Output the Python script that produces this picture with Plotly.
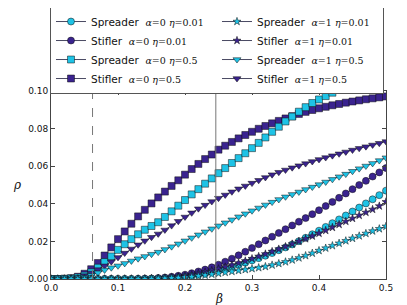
import plotly.graph_objects as go

beta = [round(0.01 * i, 2) for i in range(51)]

# Stifler alpha=0 eta=0.5 (purple squares)
stif_a0_e05 = [0.0000, 0.0000, 0.0001, 0.0004, 0.0012, 0.0028, 0.0052, 0.0085, 0.0125, 0.0168,
               0.0212, 0.0253, 0.0294, 0.0333, 0.0368, 0.0402, 0.0434, 0.0465, 0.0495, 0.0525,
               0.0555, 0.0585, 0.0612, 0.0638, 0.0662, 0.0688, 0.0709, 0.0729, 0.0748, 0.0766,
               0.0783, 0.0799, 0.0814, 0.0828, 0.0841, 0.0854, 0.0866, 0.0878, 0.0889, 0.0899,
               0.0908, 0.0916, 0.0924, 0.0931, 0.0938, 0.0944, 0.0950, 0.0956, 0.0961, 0.0966,
               0.0971]
# Spreader alpha=0 eta=0.5 (cyan squares)
spr_a0_e05 = [0.0000, 0.0000, 0.0001, 0.0003, 0.0008, 0.0018, 0.0035, 0.0060, 0.0090, 0.0120,
              0.0155, 0.0185, 0.0212, 0.0238, 0.0262, 0.0282, 0.0302, 0.0330, 0.0360, 0.0390,
              0.0420, 0.0450, 0.0478, 0.0507, 0.0535, 0.0563, 0.0590, 0.0617, 0.0643, 0.0669,
              0.0696, 0.0724, 0.0753, 0.0783, 0.0810, 0.0838, 0.0864, 0.0890, 0.0914, 0.0936,
              0.0955, 0.0973, 0.0991, 0.1008, 0.1024, 0.1040, 0.1054, 0.1068, 0.1081, 0.1094,
              0.1106]
# Stifler alpha=1 eta=0.5 (purple triangles)
stif_a1_e05 = [0.0000, 0.0000, 0.0001, 0.0003, 0.0008, 0.0018, 0.0032, 0.0050, 0.0070, 0.0092,
               0.0115, 0.0138, 0.0160, 0.0182, 0.0203, 0.0222, 0.0240, 0.0261, 0.0284, 0.0307,
               0.0330, 0.0352, 0.0374, 0.0393, 0.0412, 0.0430, 0.0447, 0.0464, 0.0480, 0.0495,
               0.0510, 0.0525, 0.0540, 0.0555, 0.0568, 0.0580, 0.0592, 0.0603, 0.0614, 0.0625,
               0.0636, 0.0646, 0.0656, 0.0666, 0.0676, 0.0686, 0.0695, 0.0704, 0.0713, 0.0722,
               0.0731]
# Spreader alpha=1 eta=0.5 (cyan triangles)
spr_a1_e05 = [0.0000, 0.0000, 0.0000, 0.0001, 0.0004, 0.0010, 0.0020, 0.0033, 0.0048, 0.0060,
              0.0070, 0.0083, 0.0096, 0.0108, 0.0120, 0.0132, 0.0143, 0.0157, 0.0172, 0.0187,
              0.0203, 0.0219, 0.0235, 0.0251, 0.0267, 0.0283, 0.0299, 0.0315, 0.0331, 0.0347,
              0.0363, 0.0378, 0.0394, 0.0409, 0.0423, 0.0437, 0.0450, 0.0463, 0.0476, 0.0489,
              0.0502, 0.0516, 0.0530, 0.0544, 0.0558, 0.0573, 0.0587, 0.0601, 0.0615, 0.0630,
              0.0645]
# Stifler alpha=0 eta=0.01 (purple circles)
stif_a0_e001 = [0.0000, 0.0000, 0.0000, 0.0000, 0.0000, 0.0000, 0.0000, 0.0000, 0.0000, 0.0000,
                0.0000, 0.0000, 0.0000, 0.0001, 0.0002, 0.0003, 0.0005, 0.0008, 0.0012, 0.0017,
                0.0023, 0.0031, 0.0040, 0.0050, 0.0062, 0.0076, 0.0092, 0.0108, 0.0126, 0.0145,
                0.0165, 0.0185, 0.0205, 0.0225, 0.0245, 0.0265, 0.0285, 0.0305, 0.0324, 0.0345,
                0.0366, 0.0388, 0.0410, 0.0432, 0.0455, 0.0478, 0.0500, 0.0522, 0.0545, 0.0567,
                0.0590]
# Spreader alpha=0 eta=0.01 (cyan circles)
spr_a0_e001 = [0.0000, 0.0000, 0.0000, 0.0000, 0.0000, 0.0000, 0.0000, 0.0000, 0.0000, 0.0000,
               0.0000, 0.0000, 0.0000, 0.0000, 0.0000, 0.0001, 0.0001, 0.0002, 0.0004, 0.0007,
               0.0011, 0.0016, 0.0022, 0.0029, 0.0037, 0.0046, 0.0055, 0.0064, 0.0075, 0.0087,
               0.0099, 0.0111, 0.0124, 0.0138, 0.0153, 0.0168, 0.0184, 0.0201, 0.0219, 0.0238,
               0.0257, 0.0277, 0.0297, 0.0317, 0.0338, 0.0359, 0.0380, 0.0402, 0.0424, 0.0446,
               0.0470]
# Stifler alpha=1 eta=0.01 (purple stars)
stif_a1_e001 = [0.0000, 0.0000, 0.0000, 0.0000, 0.0000, 0.0000, 0.0000, 0.0000, 0.0000, 0.0000,
                0.0000, 0.0000, 0.0000, 0.0000, 0.0001, 0.0002, 0.0003, 0.0005, 0.0008, 0.0012,
                0.0017, 0.0023, 0.0030, 0.0037, 0.0045, 0.0054, 0.0064, 0.0074, 0.0085, 0.0096,
                0.0108, 0.0120, 0.0133, 0.0146, 0.0159, 0.0172, 0.0186, 0.0200, 0.0214, 0.0228,
                0.0243, 0.0258, 0.0274, 0.0290, 0.0306, 0.0322, 0.0338, 0.0354, 0.0370, 0.0388,
                0.0410]
# Spreader alpha=1 eta=0.01 (cyan stars)
spr_a1_e001 = [0.0000, 0.0000, 0.0000, 0.0000, 0.0000, 0.0000, 0.0000, 0.0000, 0.0000, 0.0000,
               0.0000, 0.0000, 0.0000, 0.0000, 0.0000, 0.0001, 0.0002, 0.0003, 0.0005, 0.0007,
               0.0009, 0.0012, 0.0016, 0.0020, 0.0025, 0.0030, 0.0035, 0.0040, 0.0045, 0.0050,
               0.0055, 0.0060, 0.0066, 0.0074, 0.0082, 0.0091, 0.0101, 0.0112, 0.0124, 0.0137,
               0.0151, 0.0164, 0.0177, 0.0190, 0.0203, 0.0216, 0.0229, 0.0242, 0.0255, 0.0267,
               0.0280]

beta_dashed = 0.062
beta_solid = 0.246

x_ticks = [0.0, 0.1, 0.2, 0.3, 0.4, 0.5]
x_tick_text = ["0.0", "0.1", "0.2", "0.3", "0.4", "0.5"]
y_ticks = [0.0, 0.02, 0.04, 0.06, 0.08, 0.10]
y_tick_text = ["0.00", "0.02", "0.04", "0.06", "0.08", "0.10"]

CYAN = "#1ec3e6"
PURPLE = "#3a238f"

def lab(kind, a, e):
    return (f"{kind}  <span style='font-family:DejaVu Serif;font-size:9.5px'>"
            f"<i>α</i>={a} <i>η</i>={e}</span>")

# (values, name, color, symbol, size, legend rank)
series = [
    (stif_a0_e05, lab("Stifler", 0, 0.5), PURPLE, "square", 7, 6),
    (spr_a0_e05, lab("Spreader", 0, 0.5), CYAN, "square", 7, 4),
    (stif_a1_e05, lab("Stifler", 1, 0.5), PURPLE, "triangle-down", 7, 7),
    (spr_a1_e05, lab("Spreader", 1, 0.5), CYAN, "triangle-down", 7, 5),
    (stif_a0_e001, lab("Stifler", 0, 0.01), PURPLE, "circle", 7, 2),
    (spr_a0_e001, lab("Spreader", 0, 0.01), CYAN, "circle", 7, 0),
    (stif_a1_e001, lab("Stifler", 1, 0.01), PURPLE, "star", 6, 3),
    (spr_a1_e001, lab("Spreader", 1, 0.01), CYAN, "star", 6, 1),
]

fig = go.Figure()
for vals, name, color, sym, size, rank in series:
    fig.add_trace(go.Scatter(
        x=beta, y=vals, name=name, mode="lines+markers",
        line=dict(color="#1a1a3a", width=0.8),
        marker=dict(symbol=sym, size=size, color=color,
                    line=dict(color="#111111", width=0.5)),
        legendrank=rank + 1,
    ))

fig.add_vline(x=beta_dashed, line=dict(color="#777777", width=1, dash="dash"))
fig.add_vline(x=beta_solid, line=dict(color="#777777", width=1))

# page body has an 8px margin: figure is shifted by (8, 8)
fig.update_layout(
    width=399, height=297,
    margin=dict(l=43, r=21, t=83, b=26, autoexpand=False),
    paper_bgcolor="white", plot_bgcolor="white",
    font=dict(family="DejaVu Sans", size=9, color="#111111"),
    legend=dict(
        orientation="h", x=-0.003, xanchor="left", y=1.452, yanchor="top",
        bgcolor="white", bordercolor="#555555", borderwidth=1,
        font=dict(family="DejaVu Sans", size=10.5, color="#111111"),
        entrywidth=121, itemwidth=30, tracegroupgap=0,
    ),
    showlegend=True,
    annotations=[
        dict(text="<i>β</i>", xref="paper", yref="paper", x=0.5, y=0,
             xanchor="center", yanchor="top", yshift=-11, showarrow=False,
             font=dict(family="DejaVu Serif", size=12, color="#111111")),
        dict(text="<i>ρ</i>", xref="paper", yref="paper", x=0, y=0.5,
             xanchor="right", yanchor="middle", xshift=-28, showarrow=False,
             font=dict(family="DejaVu Serif", size=12, color="#111111")),
    ],
)
fig.update_xaxes(
    range=[0, 0.5], tickvals=x_ticks, ticktext=x_tick_text,
    ticks="inside", ticklen=4, tickcolor="#444444", mirror="ticks",
    showline=True, linecolor="#444444", linewidth=1,
    showgrid=False, zeroline=False, automargin=False,
)
fig.update_yaxes(
    range=[0, 0.1], tickvals=y_ticks, ticktext=y_tick_text,
    ticks="inside", ticklen=4, tickcolor="#444444", mirror="ticks",
    showline=True, linecolor="#444444", linewidth=1,
    showgrid=False, zeroline=False, automargin=False,
)

fig.write_html("out.html")
